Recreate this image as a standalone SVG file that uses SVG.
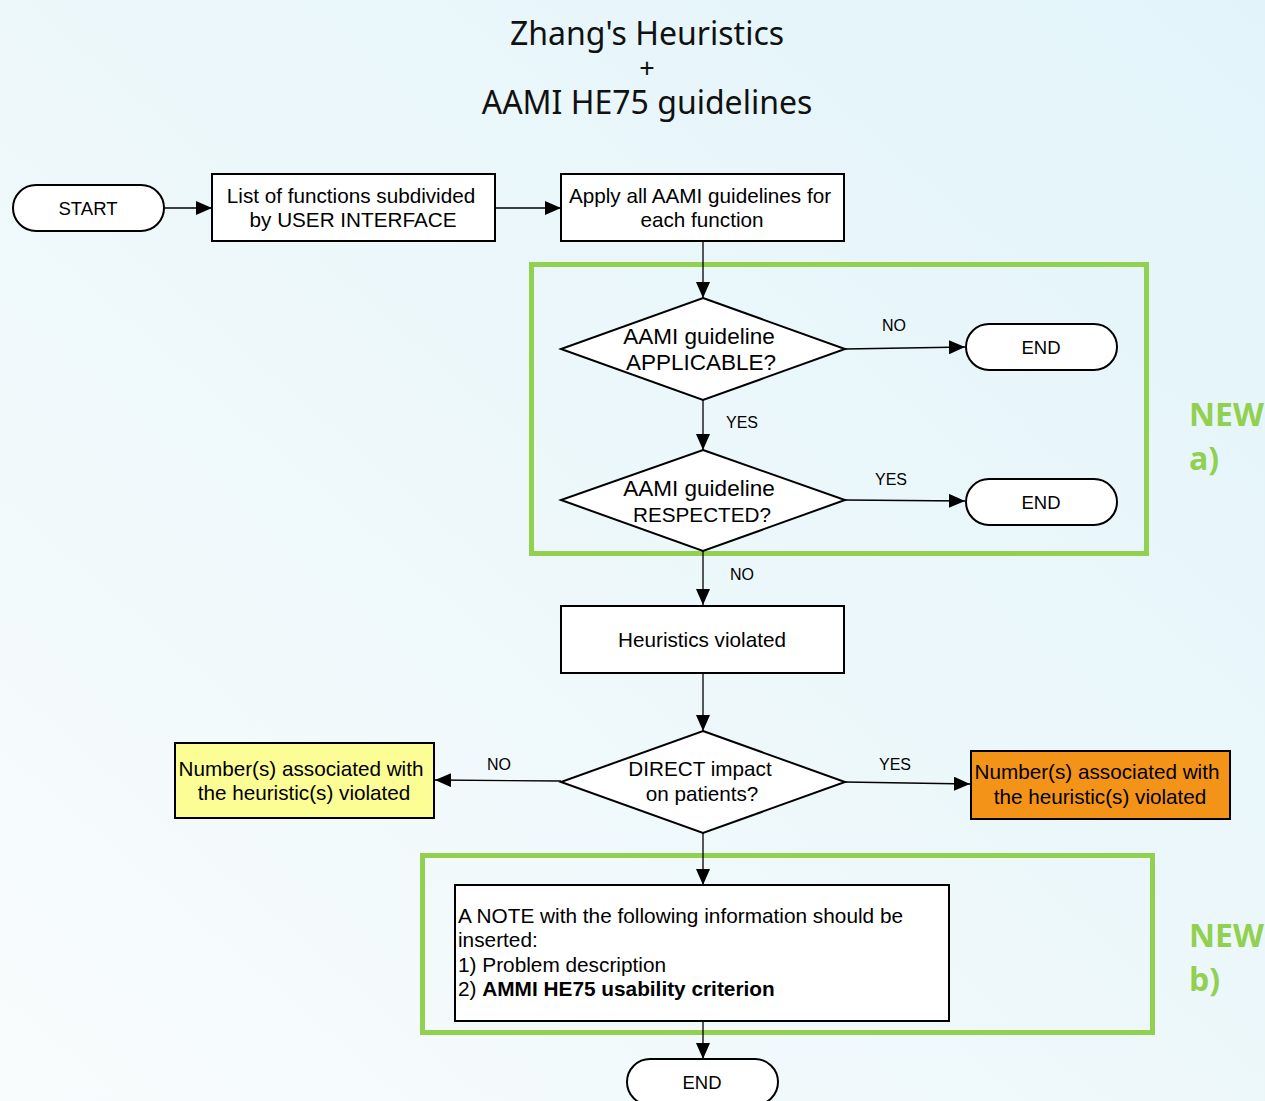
<svg xmlns="http://www.w3.org/2000/svg" width="1265" height="1101" viewBox="0 0 1265 1101">
  <defs>
    <linearGradient id="bg" x1="1" y1="0" x2="0" y2="1">
      <stop offset="0" stop-color="#e2f4fa"/>
      <stop offset="0.55" stop-color="#eef8fb"/>
      <stop offset="1" stop-color="#f9fcfd"/>
    </linearGradient>
    <marker id="arrow" markerUnits="userSpaceOnUse" markerWidth="16" markerHeight="14" viewBox="0 0 16 14" refX="16" refY="7" orient="auto">
      <path d="M0,0 L16,7 L0,14 Z" fill="#000"/>
    </marker>
    <style>
      .box { fill: #fff; stroke: #000; stroke-width: 2; }
      .term { fill: #fff; stroke: #000; stroke-width: 2; }
      .lbl { font-family: "Liberation Sans", Arial, sans-serif; font-size: 20.7px; fill: #000; text-anchor: middle; }
      .dia { font-size: 22.5px; }
      .term-lbl { font-family: "Liberation Sans", Arial, sans-serif; font-size: 18.5px; fill: #000; text-anchor: middle; }
      .edge { font-family: "Liberation Sans", Arial, sans-serif; font-size: 16px; fill: #000; text-anchor: middle; }
      .conn { fill: none; stroke: #000; stroke-width: 1.3; marker-end: url(#arrow); }
      .frame { fill: none; stroke: #92d050; stroke-width: 5; }
      .new { font-family: "Open Sans", "Liberation Sans", sans-serif; font-weight: bold; font-size: 32px; fill: #92d050; }
      .title { font-family: "Noto Sans", "Liberation Sans", sans-serif; font-size: 32px; fill: #111; text-anchor: middle; }
      .plus { font-size: 27px; }
    </style>
  </defs>

  <rect x="0" y="0" width="1265" height="1101" fill="url(#bg)"/>

  <!-- Title -->
  <g id="title">
    <text class="title" x="647" y="45">Zhang's Heuristics</text>
    <text class="title plus" x="647" y="78">+</text>
    <text class="title" x="647" y="114">AAMI HE75 guidelines</text>
  </g>

  <!-- Highlight frames for the new steps -->
  <g id="frame-a">
    <rect class="frame" x="531.5" y="264.5" width="615" height="289"/>
    <text class="new" x="1189" y="426">NEW</text>
    <text class="new" x="1189" y="470">a)</text>
  </g>
  <g id="frame-b">
    <rect class="frame" x="422.5" y="855.5" width="730" height="177"/>
    <text class="new" x="1189" y="947">NEW</text>
    <text class="new" x="1189" y="991">b)</text>
  </g>

  <!-- Connectors -->
  <g id="connectors">
    <path class="conn" d="M164,208 L212,208"/>
    <path class="conn" d="M495,208 L561,208"/>
    <path class="conn" d="M703,241 L703,298"/>
    <path class="conn" d="M845,349 L965,347"/>
    <text class="edge" x="894" y="331">NO</text>
    <path class="conn" d="M703,400 L703,450"/>
    <text class="edge" x="742" y="428">YES</text>
    <path class="conn" d="M845,500 L965,501"/>
    <text class="edge" x="891" y="485">YES</text>
    <path class="conn" d="M703,551 L703,605"/>
    <text class="edge" x="742" y="580">NO</text>
    <path class="conn" d="M703,673 L703,731"/>
    <path class="conn" d="M561,781 L435,780"/>
    <text class="edge" x="499" y="770">NO</text>
    <path class="conn" d="M845,782 L970,784"/>
    <text class="edge" x="895" y="770">YES</text>
    <path class="conn" d="M703,833 L703,885"/>
    <path class="conn" d="M703,1021 L703,1059"/>
  </g>

  <!-- Nodes -->
  <g id="start">
    <rect class="term" x="13" y="185" width="151" height="46" rx="23"/>
    <text class="term-lbl" x="88" y="215">START</text>
  </g>
  <g id="list-functions">
    <rect class="box" x="212" y="174" width="283" height="67"/>
    <text class="lbl" x="351" y="203">List of functions subdivided</text>
    <text class="lbl" x="353" y="227">by USER INTERFACE</text>
  </g>
  <g id="apply-guidelines">
    <rect class="box" x="561" y="174" width="283" height="67"/>
    <text class="lbl" x="700" y="203">Apply all AAMI guidelines for</text>
    <text class="lbl" x="702" y="227">each function</text>
  </g>
  <g id="applicable">
    <polygon class="box" points="703,298 845,349 703,400 561,349"/>
    <text class="lbl dia" x="699" y="344">AAMI guideline</text>
    <text class="lbl dia" x="701" y="370">APPLICABLE?</text>
  </g>
  <g id="end-a">
    <rect class="term" x="966" y="324" width="151" height="46" rx="23"/>
    <text class="term-lbl" x="1041" y="354">END</text>
  </g>
  <g id="respected">
    <polygon class="box" points="703,450 845,500 703,551 561,500"/>
    <text class="lbl dia" x="699" y="496">AAMI guideline</text>
    <text class="lbl" x="702" y="522">RESPECTED?</text>
  </g>
  <g id="end-b">
    <rect class="term" x="966" y="479" width="151" height="46" rx="23"/>
    <text class="term-lbl" x="1041" y="509">END</text>
  </g>
  <g id="heuristics-violated">
    <rect class="box" x="561" y="606" width="283" height="67"/>
    <text class="lbl" x="702" y="647">Heuristics violated</text>
  </g>
  <g id="direct-impact">
    <polygon class="box" points="703,731 845,782 703,833 561,782"/>
    <text class="lbl" x="700" y="776">DIRECT impact</text>
    <text class="lbl" x="702" y="801">on patients?</text>
  </g>
  <g id="numbers-no">
    <rect x="175" y="743" width="259" height="75" fill="#fdfd96" stroke="#000" stroke-width="2"/>
    <text class="lbl" x="301" y="776">Number(s) associated with</text>
    <text class="lbl" x="304" y="800">the heuristic(s) violated</text>
  </g>
  <g id="numbers-yes">
    <rect x="971" y="751" width="259" height="68" fill="#f39419" stroke="#000" stroke-width="2"/>
    <text class="lbl" x="1097" y="779">Number(s) associated with</text>
    <text class="lbl" x="1100" y="804">the heuristic(s) violated</text>
  </g>
  <g id="note">
    <rect class="box" x="455" y="885" width="494" height="136"/>
    <g font-family="Liberation Sans, Arial, sans-serif" font-size="20.8" fill="#000">
      <text x="458" y="923">A NOTE with the following information should be</text>
      <text x="458" y="947">inserted:</text>
      <text x="458" y="972">1) Problem description</text>
      <text x="458" y="996">2) <tspan font-weight="bold">AMMI HE75 usability criterion</tspan></text>
    </g>
  </g>
  <g id="end-c">
    <rect class="term" x="627" y="1059" width="151" height="46" rx="23"/>
    <text class="term-lbl" x="702" y="1089">END</text>
  </g>
</svg>
